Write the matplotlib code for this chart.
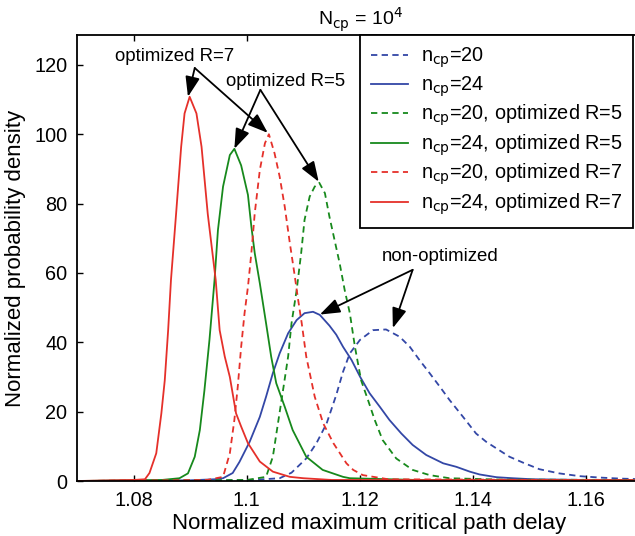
#!/usr/bin/env python3
"""
Critical path delay distributions for n_cp=20/24, with and without optimization.
"""
import matplotlib
matplotlib.use('Agg')
import matplotlib.pyplot as plt

plt.rcParams['font.family'] = ['Liberation Sans', 'DejaVu Sans']

# n_cp=20 (non-optimized, dashed blue)
x_n20 = [1.070, 1.100, 1.1058, 1.1079, 1.1105, 1.1123, 1.1141, 1.1158, 1.1170, 1.1182,
         1.1200, 1.1223, 1.1246, 1.1270, 1.1288, 1.1305, 1.1323, 1.1341, 1.1358, 1.1382,
         1.1405, 1.1423, 1.1441, 1.1464, 1.1488, 1.1517, 1.1552, 1.1588, 1.1623, 1.1659, 1.1700]
y_n20 = [0, 0.2, 0.8, 2.4, 6.5, 10.9, 16.6, 24.8, 31.5, 36.8,
         40.7, 43.5, 43.7, 41.6, 38.7, 34.9, 31.1, 27.2, 23.4, 18.5,
         13.7, 11.3, 9.4, 7.0, 5.3, 3.4, 2.2, 1.4, 1.0, 0.7, 0.5]

# n_cp=24 (non-optimized, solid blue)
x_n24 = [1.070, 1.090, 1.0943, 1.0958, 1.0975, 1.0987, 1.1005, 1.1023, 1.1034, 1.1046,
         1.1058, 1.1073, 1.1088, 1.1102, 1.1117, 1.1129, 1.1146, 1.1158, 1.1170, 1.1185,
         1.1200, 1.1217, 1.1235, 1.1252, 1.1273, 1.1293, 1.1317, 1.1347, 1.1370, 1.1394,
         1.1411, 1.1441, 1.1470, 1.1505, 1.1600, 1.1700]
y_n24 = [0, 0.2, 0.5, 0.8, 2.3, 5.5, 11.3, 18.5, 24.3, 31.1,
         36.8, 42.6, 46.4, 48.4, 48.8, 47.9, 44.8, 42.2, 38.7, 34.9,
         30.1, 25.3, 21.4, 17.6, 13.7, 10.4, 7.5, 5.1, 4.1, 2.7,
         1.9, 1.1, 0.8, 0.5, 0.3, 0.2]

# n_cp=20, optimized R=5 (dashed green)
x_n20_r5 = [1.070, 1.100, 1.1034, 1.1046, 1.1055, 1.1064, 1.1073, 1.1079, 1.1088, 1.1096,
            1.1102, 1.1111, 1.1120, 1.1128, 1.1138, 1.1146, 1.1155, 1.1164, 1.1173, 1.1182,
            1.1191, 1.1202, 1.1214, 1.1226, 1.1240, 1.1264, 1.1293, 1.1323, 1.1358, 1.1450, 1.1700]
y_n20_r5 = [0, 0.3, 1.2, 7, 16.6, 26.2, 35.9, 45.5, 55, 65.7,
            75.3, 82, 84.9, 86, 83, 76.2, 69.5, 62.8, 55, 48.4,
            38.7, 29, 23.4, 17.6, 11.8, 6.5, 3.2, 1.7, 0.8, 0.4, 0.3]

# n_cp=24, optimized R=5 (solid green)
x_n24_r5 = [1.070, 1.085, 1.0881, 1.0896, 1.0908, 1.0917, 1.0925, 1.0934, 1.0943, 1.0949,
            1.0958, 1.0970, 1.0978, 1.0990, 1.1002, 1.1008, 1.1014, 1.1023, 1.1034, 1.1043,
            1.1052, 1.1067, 1.1081, 1.1105, 1.1134, 1.1170, 1.1182, 1.1300, 1.1700]
y_n24_r5 = [0, 0.3, 0.8, 2.2, 7, 14.7, 26, 40.7, 58, 72.4,
            84.9, 94, 95.8, 91, 82.5, 73.4, 65.7, 57, 45.5, 35.9,
            28.2, 21.4, 14.7, 7, 3.2, 1.2, 0.8, 0.3, 0.2]

# n_cp=20, optimized R=7 (dashed red)
x_n20_r7 = [1.070, 1.093, 1.0958, 1.0970, 1.0978, 1.0984, 1.0990, 1.0996, 1.1002, 1.1008,
            1.1014, 1.1023, 1.1032, 1.1039, 1.1049, 1.1058, 1.1067, 1.1076, 1.1084, 1.1090,
            1.1097, 1.1105, 1.1120, 1.1135, 1.1153, 1.1176, 1.1188, 1.1205, 1.1250, 1.1700]
y_n20_r7 = [0, 0.3, 1.2, 8, 17.6, 27.2, 38.7, 48.4, 56, 65.7,
            77.2, 89.7, 97.4, 100, 94.5, 87.8, 79.1, 68.6, 59.9, 53,
            45.5, 35.9, 24.3, 16.6, 10.9, 5.1, 3.2, 1.7, 0.5, 0.2]

# n_cp=24, optimized R=7 (solid red)
x_n24_r7 = [1.070, 1.080, 1.0820, 1.0828, 1.0840, 1.0849, 1.0855, 1.0861, 1.0866, 1.0875,
            1.0884, 1.0890, 1.0899, 1.0911, 1.0920, 1.0931, 1.0945, 1.0952, 1.0961, 1.0970,
            1.0981, 1.0990, 1.1002, 1.1023, 1.1046, 1.1076, 1.1100, 1.1150, 1.1700]
y_n24_r7 = [0, 0.3, 0.5, 2.3, 8, 19.5, 29, 43.5, 58, 77,
            96.4, 106, 110.8, 106, 96.4, 77, 58, 43.5, 35.9, 30,
            19.5, 15.7, 10.9, 5.6, 2.7, 1.2, 0.8, 0.3, 0.2]

BLUE = '#3347a6'
GREEN = '#17891c'
RED = '#e5302a'
DASH = (0, (3.5, 2.4))


def main():
    fig = plt.figure(figsize=(6.35, 5.36), dpi=100)
    ax = fig.add_axes([0.1213, 0.1026, 0.8913, 0.832])

    lw = 1.3
    ax.plot(x_n20, y_n20, color=BLUE, lw=lw, ls=DASH, label=r'n$_{\rm cp}$=20')
    ax.plot(x_n24, y_n24, color=BLUE, lw=lw, label=r'n$_{\rm cp}$=24')
    ax.plot(x_n20_r5, y_n20_r5, color=GREEN, lw=lw, ls=DASH,
            label=r'n$_{\rm cp}$=20, optimized R=5')
    ax.plot(x_n24_r5, y_n24_r5, color=GREEN, lw=lw,
            label=r'n$_{\rm cp}$=24, optimized R=5')
    ax.plot(x_n20_r7, y_n20_r7, color=RED, lw=lw, ls=DASH,
            label=r'n$_{\rm cp}$=20, optimized R=7')
    ax.plot(x_n24_r7, y_n24_r7, color=RED, lw=lw,
            label=r'n$_{\rm cp}$=24, optimized R=7')

    ax.set_xlim(1.07, 1.17)
    ax.set_ylim(0, 128.6)
    ax.set_xticks([1.08, 1.1, 1.12, 1.14, 1.16])
    ax.set_xticklabels(['1.08', '1.1', '1.12', '1.14', '1.16'])
    ax.set_yticks([0, 20, 40, 60, 80, 100, 120])
    ax.tick_params(direction='in', top=True, right=True, length=4, width=1,
                   labelsize=14.3, pad=7)
    for s in ax.spines.values():
        s.set_linewidth(1.3)

    ax.set_xlabel('Normalized maximum critical path delay', fontsize=16, labelpad=0)
    ax.xaxis.set_label_coords(0.516, -0.072)
    ax.set_ylabel('Normalized probability density', fontsize=16, labelpad=6)
    ax.set_title(r'N$_{\rm cp}$ = 10$^4$', fontsize=14, pad=7)

    # Annotations
    arrow = dict(arrowstyle='-|>,head_length=0.61,head_width=0.22', mutation_scale=20,
                 color='black', lw=1.3, shrinkA=0, shrinkB=0)
    ax.text(1.0872, 122.3, 'optimized R=7', fontsize=13.4, ha='center', va='center')
    ax.annotate('', xy=(1.0896, 110.8), xytext=(1.0908, 119.1), arrowprops=arrow)
    ax.annotate('', xy=(1.1037, 100.4), xytext=(1.0908, 119.1), arrowprops=arrow)

    ax.text(1.1068, 115.1, 'optimized R=5', fontsize=13.4, ha='center', va='center')
    ax.annotate('', xy=(1.0978, 95.8), xytext=(1.1024, 112.8), arrowprops=arrow)
    ax.annotate('', xy=(1.1127, 86.3), xytext=(1.1024, 112.8), arrowprops=arrow)

    ax.text(1.1341, 64.6, 'non-optimized', fontsize=13.4, ha='center', va='center')
    ax.annotate('', xy=(1.1129, 48.0), xytext=(1.1293, 60.9), arrowprops=arrow)
    ax.annotate('', xy=(1.1258, 44.1), xytext=(1.1293, 60.9), arrowprops=arrow)

    leg = ax.legend(loc='upper left', bbox_to_anchor=(0.5, 1.0), fontsize=14.3,
                    frameon=True, fancybox=False, framealpha=1, edgecolor='black',
                    borderaxespad=0, handlelength=1.86, handletextpad=0.65,
                    labelspacing=0.2, borderpad=0.55)
    leg.get_frame().set_linewidth(1.3)

    plt.savefig('out.png', dpi=100)


if __name__ == "__main__":
    main()
